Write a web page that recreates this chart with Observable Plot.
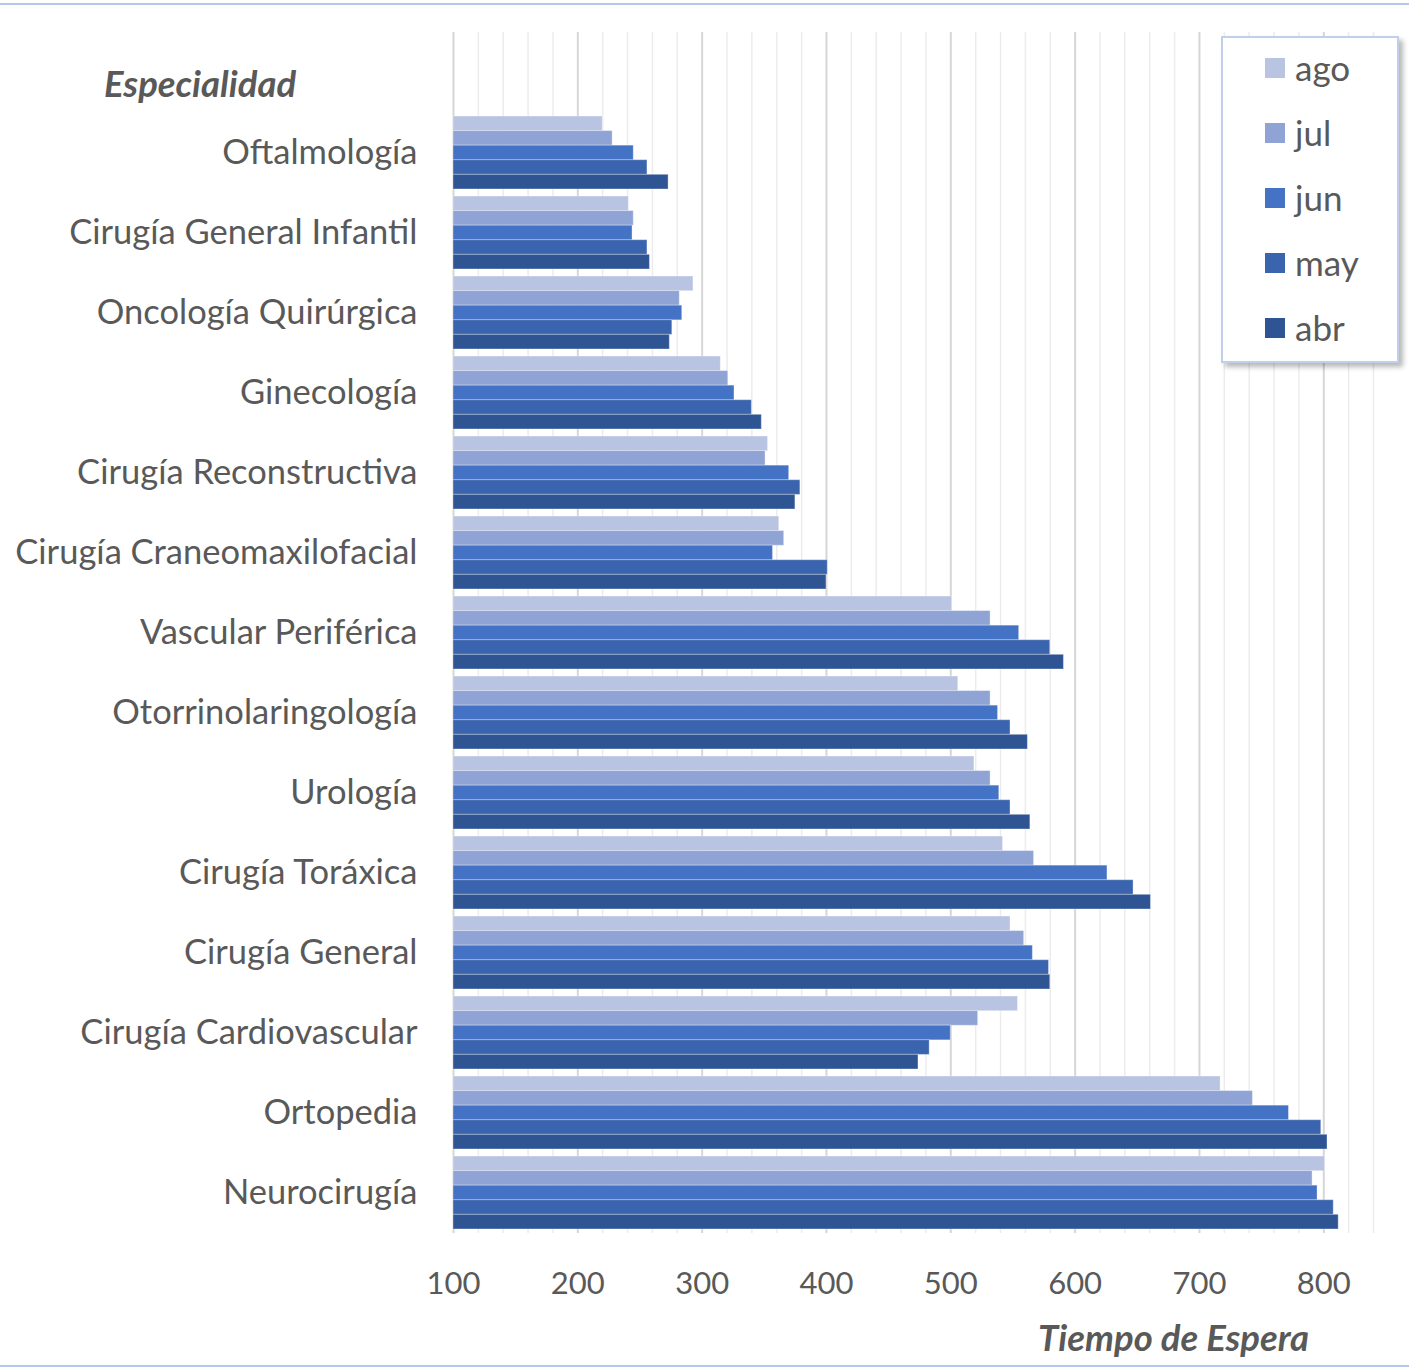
<!DOCTYPE html>
<html>
<head>
<meta charset="utf-8">
<script src="https://cdn.jsdelivr.net/npm/d3@7"></script>
<script src="https://cdn.jsdelivr.net/npm/@observablehq/plot@0.6"></script>
<style>
  html, body { margin: 0; padding: 0; background: #fff; }
  #wrap { position: relative; width: 1409px; height: 1369px; overflow: hidden; font-family: Lato, "Open Sans", sans-serif; color: #595959; }
  .hline { position: absolute; left: 0; width: 1409px; height: 2px; background: #b4c7e7; }
  .title { position: absolute; font-weight: 700; font-style: italic; font-size: 36.5px; color: #595959; white-space: nowrap; line-height: 1; }
  #legend { position: absolute; left: 1221px; top: 36px; width: 174px; height: 323px; border: 2px solid #c0d0ea; background: #fff; box-shadow: 4px 4px 5px rgba(0,0,0,0.28); }
  .lg-item { position: absolute; left: 42px; display: flex; align-items: center; font-size: 35px; color: #595959; line-height: 1; }
  .lg-sw { width: 20px; height: 20px; margin-right: 10px; }
  svg text { font-family: Lato, "Open Sans", sans-serif; }
</style>
</head>
<body>
<div id="wrap"></div>
<script>
const categories = [
  "Oftalmología",
  "Cirugía General Infantil",
  "Oncología Quirúrgica",
  "Ginecología",
  "Cirugía Reconstructiva",
  "Cirugía Craneomaxilofacial",
  "Vascular Periférica",
  "Otorrinolaringología",
  "Urología",
  "Cirugía Toráxica",
  "Cirugía General",
  "Cirugía Cardiovascular",
  "Ortopedia",
  "Neurocirugía"
];
const months = ["ago", "jul", "jun", "may", "abr"];
const colors = ["#b9c3e2", "#8fa4d5", "#4472c4", "#3a64ad", "#2f5494"];

const ago = [220, 241, 293, 315, 353, 362, 501, 506, 519, 542, 548, 554, 717, 801];
const jul = [228, 245, 282, 321, 351, 366, 532, 532, 532, 567, 559, 522, 743, 791];
const jun = [245, 244, 284, 326, 370, 357, 555, 538, 539, 626, 566, 500, 772, 795];
const may = [256, 256, 276, 340, 379, 401, 580, 548, 548, 647, 579, 483, 798, 808];
const abr = [273, 258, 274, 348, 375, 400, 591, 562, 564, 661, 580, 474, 803, 812];

const series = {ago, jul, jun, may, abr};
const xTicks = [100, 200, 300, 400, 500, 600, 700, 800];
const minorTicks = d3.range(100, 841, 20).filter(v => v % 100 !== 0);

const data = months.flatMap(m => categories.map((c, i) => ({cat: c, month: m, value: series[m][i]})));

const W = 1409, H = 1369, mT = 32, mB = 136, mL = 453, mR = 36;
const yDomain = [" ", ...categories];
const padInner = 0.09;
const step = (H - mT - mB) / yDomain.length;
const bw = step * (1 - padInner);
const barH = bw / months.length;

const marks = [
  Plot.gridX(minorTicks, {stroke: "#ececec", strokeOpacity: 1, strokeWidth: 1.5}),
  Plot.gridX(xTicks, {stroke: "#d6d6d6", strokeOpacity: 1, strokeWidth: 2}),
  ...months.map((m, j) => Plot.barX(data.filter(d => d.month === m), {
    x1: 100, x2: "value", y: "cat",
    fill: colors[j],
    stroke: "#ffffff", strokeOpacity: 0.35, strokeWidth: 1,
    insetTop: j * barH, insetBottom: (months.length - 1 - j) * barH
  })),
  Plot.axisY({tickSize: 0, tickPadding: 36, fontSize: 34.5}),
  Plot.axisX(xTicks, {tickSize: 0, tickPadding: 38, fontSize: 31, tickFormat: d => String(d)})
];

const chart = Plot.plot({
  width: W, height: H,
  marginTop: mT, marginBottom: mB, marginLeft: mL, marginRight: mR,
  style: {color: "#595959", background: "transparent", fontFamily: "Lato, 'Open Sans', sans-serif"},
  x: {domain: [100, 840], label: null},
  y: {domain: yDomain, paddingInner: padInner, paddingOuter: padInner / 2, label: null},
  marks
});

const wrap = document.getElementById("wrap");
chart.style.position = "absolute";
chart.style.left = "0";
chart.style.top = "0";
wrap.appendChild(chart);

const lineTop = document.createElement("div"); lineTop.className = "hline"; lineTop.style.top = "3px"; wrap.appendChild(lineTop);
const lineBot = document.createElement("div"); lineBot.className = "hline"; lineBot.style.top = "1365px"; wrap.appendChild(lineBot);

const t1 = document.createElement("div"); t1.className = "title"; t1.textContent = "Especialidad";
t1.style.left = "104px"; t1.style.top = "65px"; wrap.appendChild(t1);
const t2 = document.createElement("div"); t2.className = "title"; t2.textContent = "Tiempo de Espera";
t2.style.right = (1409 - 1309) + "px"; t2.style.top = "1319px"; wrap.appendChild(t2);

const lg = document.createElement("div"); lg.id = "legend";
months.forEach((m, j) => {
  const it = document.createElement("div"); it.className = "lg-item";
  it.style.top = (12 + j * 65) + "px";
  const sw = document.createElement("div"); sw.className = "lg-sw"; sw.style.background = colors[j];
  const tx = document.createElement("span"); tx.textContent = m;
  it.appendChild(sw); it.appendChild(tx); lg.appendChild(it);
});
wrap.appendChild(lg);
</script>
</body>
</html>
